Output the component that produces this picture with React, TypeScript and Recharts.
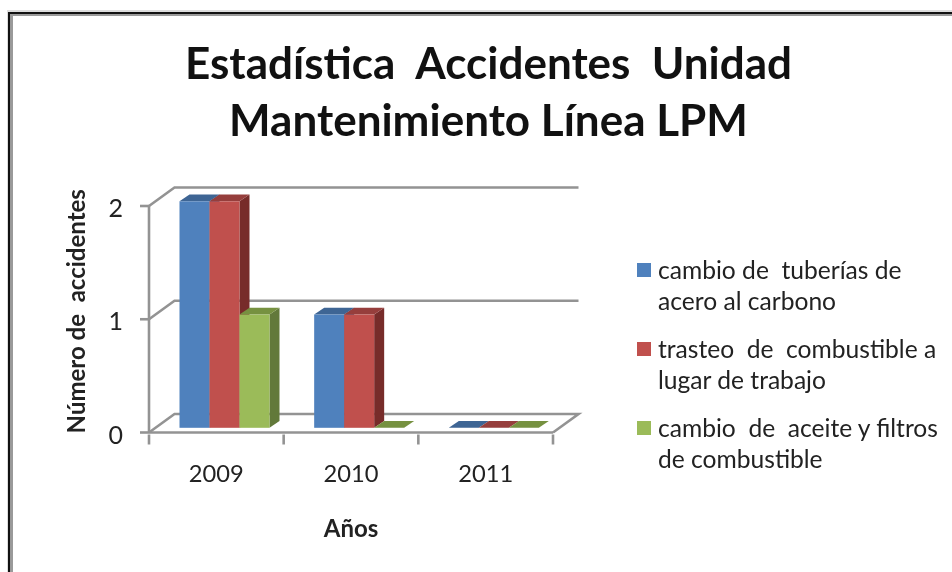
import React from "react";
import { BarChart, Bar, XAxis, YAxis, CartesianGrid, Legend } from "recharts";

const years = ["2009", "2010", "2011"];
const tuberias = [2, 1, 0];
const trasteo = [2, 1, 0];
const aceite = [1, 0, 0];
const seriesNames = [
  "cambio de  tuberías de acero al carbono",
  "trasteo  de  combustible a lugar de trabajo",
  "cambio  de  aceite y filtros de combustible",
];
const legendLines = [
  ["cambio de  tuberías de", "acero al carbono"],
  ["trasteo  de  combustible a", "lugar de trabajo"],
  ["cambio  de  aceite y filtros", "de combustible"],
];

const chartData = years.map((year, i) => ({
  year,
  tuberias: tuberias[i],
  trasteo: trasteo[i],
  aceite: aceite[i],
}));

const WIDTH = 944;
const HEIGHT = 556;
const FONT = "Lato, 'Open Sans', sans-serif";
const TEXT = "#222";
const AXIS = "#939393";
const AXIS_W = 2.6;
const PLOT_W = 404;

// depth of the fake 3D box and of the bars inside it
const BOX_DX = 25.5;
const BOX_DY = -18.5;
const BAR_DX = 10;
const BAR_DY = -6.7;
const BAR_SHIFT_X = 8.5;
const BAR_SHIFT_Y = -4.7;

function bar3d(front: string, top: string, side: string) {
  return (props: any) => {
    const x = props.x + BAR_SHIFT_X;
    const y = props.y + BAR_SHIFT_Y;
    const w = props.width;
    const h = props.height;
    const topFace = `${x},${y} ${x + BAR_DX},${y + BAR_DY} ${x + w + BAR_DX},${y + BAR_DY} ${x + w},${y}`;
    const sideFace = `${x + w},${y} ${x + w + BAR_DX},${y + BAR_DY} ${x + w + BAR_DX},${y + h + BAR_DY} ${x + w},${y + h}`;
    return (
      <g>
        {h > 0 && <polygon points={sideFace} fill={side} />}
        <polygon points={topFace} fill={top} />
        {h > 0 && <rect x={x} y={y} width={w} height={h} fill={front} />}
      </g>
    );
  };
}

function wallLine(props: any) {
  const { x1, x2, y1, key } = props;
  const isFloor = Math.abs(y1 - (props.y + props.height)) < 1;
  let d = `M${x1},${y1} L${x1 + BOX_DX},${y1 + BOX_DY} L${x2 + BOX_DX},${y1 + BOX_DY}`;
  if (isFloor) d += ` L${x2},${y1}`;
  return <path key={key} d={d} fill="none" stroke={AXIS} strokeWidth={AXIS_W} />;
}

function YearTick(props: any) {
  const { x, y, index, payload } = props;
  const band = PLOT_W / years.length;
  const left = x - band / 2;
  return (
    <g>
      <line x1={left} x2={left} y1={y} y2={y + 10} stroke={AXIS} strokeWidth={AXIS_W} />
      {index === years.length - 1 && (
        <line x1={left + band} x2={left + band} y1={y} y2={y + 10} stroke={AXIS} strokeWidth={AXIS_W} />
      )}
      <text x={x} y={y + 47} textAnchor="middle" fontFamily={FONT} fontSize={23.7} fill={TEXT}>
        {payload.value}
      </text>
    </g>
  );
}

function ValueTick(props: any) {
  const { x, y, payload } = props;
  return (
    <text x={x} y={y + 11} textAnchor="end" fontFamily={FONT} fontSize={25} fill={TEXT}>
      {payload.value}
    </text>
  );
}

function LegendBox() {
  const colors = ["#4F81BD", "#C0504D", "#9BBB59"];
  return (
    <div style={{ position: "relative", width: 320, height: 240, fontFamily: FONT, fontSize: 24.6, color: TEXT }}>
      {legendLines.map((lines, i) => (
        <div key={i} style={{ position: "absolute", left: 0, top: i * 79, whiteSpace: "pre" }}>
          <div style={{ position: "absolute", left: 0, top: 9, width: 14, height: 14, background: colors[i] }} />
          <div style={{ marginLeft: 21, lineHeight: "31px" }}>
            {lines.map((l) => (
              <div key={l}>{l}</div>
            ))}
          </div>
        </div>
      ))}
    </div>
  );
}

export default function App() {
  return (
    <div style={{ position: "relative", width: WIDTH, height: HEIGHT, background: "#fff" }}>
      <div
        style={{
          position: "fixed",
          left: 8,
          top: 12,
          right: -20,
          bottom: -20,
          borderLeft: "2px solid #111",
          borderTop: "2px solid #111",
          boxShadow: "inset 3px 2px 0 #9a9a9a, -1px -2px 0 #ddd",
          pointerEvents: "none",
        }}
      />
      <div
        style={{
          position: "absolute",
          left: 0,
          top: 26,
          width: 961,
          textAlign: "center",
          fontFamily: FONT,
          fontWeight: 700,
          fontSize: 44,
          lineHeight: "57px",
          color: "#111",
          whiteSpace: "pre",
        }}
      >
        <div>Estadística  Accidentes  Unidad</div>
        <div>Mantenimiento Línea LPM</div>
      </div>
      <BarChart
        width={WIDTH}
        height={HEIGHT}
        data={chartData}
        barSize={30}
        barGap={0}
        margin={{ top: 198, right: 399, bottom: 101.5, left: 101 }}
      >
        <CartesianGrid horizontal={wallLine} vertical={false} />
        <XAxis
          dataKey="year"
          height={30}
          tickLine={false}
          tickSize={0}
          axisLine={{ stroke: AXIS, strokeWidth: AXIS_W }}
          tick={<YearTick />}
          label={{
            value: "Años",
            position: "bottom",
            offset: 57,
            fontFamily: FONT,
            fontWeight: 700,
            fontSize: 24,
            fill: TEXT,
          }}
        />
        <YAxis
          width={40}
          domain={[0, 2]}
          ticks={[0, 1, 2]}
          tickSize={9}
          tickMargin={17}
          axisLine={{ stroke: AXIS, strokeWidth: AXIS_W }}
          tickLine={{ stroke: AXIS, strokeWidth: AXIS_W }}
          tick={<ValueTick />}
          label={{
            value: "Número de\u00A0\u00A0accidentes",
            angle: -90,
            position: "center",
            dx: -53,
            dy: -8,
            fontFamily: FONT,
            fontWeight: 700,
            fontSize: 24,
            fill: TEXT,
          }}
        />
        <Legend
          layout="horizontal"
          align="center"
          verticalAlign="middle"
          content={<LegendBox />}
          wrapperStyle={{ left: 629, top: 246, width: 320, height: 240 }}
        />
        <Bar dataKey="tuberias" name={seriesNames[0]} isAnimationActive={false} shape={bar3d("#4F81BD", "#3E6594", "#385D8A")} />
        <Bar dataKey="trasteo" name={seriesNames[1]} isAnimationActive={false} shape={bar3d("#C0504D", "#963E3C", "#772C2A")} />
        <Bar dataKey="aceite" name={seriesNames[2]} isAnimationActive={false} shape={bar3d("#9BBB59", "#769140", "#62793A")} />
      </BarChart>
    </div>
  );
}
